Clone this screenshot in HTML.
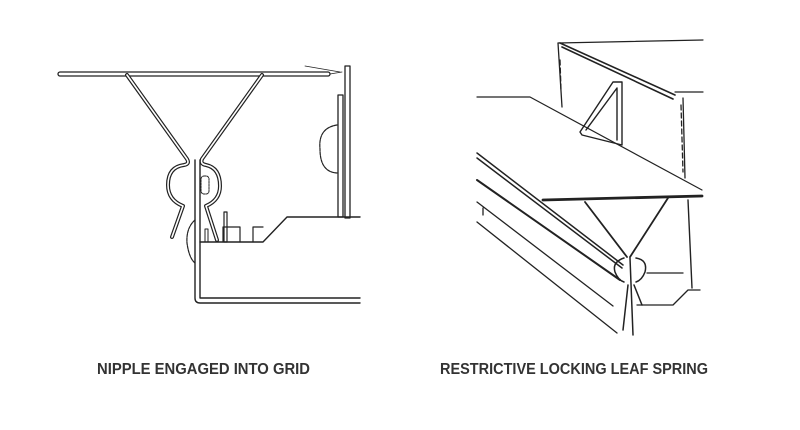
<!DOCTYPE html>
<html><head><style>html,body{margin:0;padding:0;background:#fff}svg{display:block}</style></head>
<body>
<svg width="800" height="430" viewBox="0 0 800 430" xmlns="http://www.w3.org/2000/svg">
<g fill="none" stroke="#222" stroke-linejoin="round" stroke-linecap="round">
<!-- LEFT -->
<rect x="58" y="72" width="272" height="4" rx="2" stroke-width="1.3"/>
<path d="M330 74 L342 72 M305 66 L340 72" stroke-width="0.8"/>
<rect x="345" y="66" width="5" height="152" stroke-width="1.3"/>
<rect x="338" y="95" width="5" height="122" stroke-width="1.3"/>
<path d="M337 125 Q318 128 320 149 Q320 172 337 173" stroke-width="1.2" stroke-dasharray="3 1"/>
<!-- spring -->
<path d="M127 75 L187 159 Q190 164 184 165 Q168 167 168 185 Q168 200 183 206 L172 237" stroke-width="4"/>
<path d="M127 75 L187 159 Q190 164 184 165 Q168 167 168 185 Q168 200 183 206 L172 237" stroke="#fff" stroke-width="1.6"/>
<path d="M262 75 L202 159 Q200 164 206 165 Q220 168 220 186 Q220 200 206 206 L217 240" stroke-width="4"/>
<path d="M262 75 L202 159 Q200 164 206 165 Q220 168 220 186 Q220 200 206 206 L217 240" stroke="#fff" stroke-width="1.6"/>
<rect x="201" y="176" width="8" height="18" rx="3" stroke-width="1" stroke-dasharray="2 1"/>
<!-- grid -->
<path d="M195 160 L195 298 Q195 303 200 303 L360 303 M200 160 L200 298 L360 298" stroke-width="1.4"/>
<path d="M200 242 L263 242 L287 217 L360 217" stroke-width="1.4"/>
<path d="M253 242 L253 227 L263 227 M223 242 L223 227 L240 227 L240 242" stroke-width="1.2"/>
<rect x="224" y="212" width="3" height="30" stroke-width="1.2"/>
<rect x="205" y="229" width="3" height="13" stroke-width="1"/>
<path d="M195 220 Q186 228 187 243 Q189 258 195 263" stroke-width="1.2" stroke-dasharray="3 1"/>
<!-- RIGHT -->
<path d="M558 43 L703 40" stroke-width="1.2"/>
<path d="M560 43 L675 95 M562 47 L673 99" stroke-width="1.6"/>
<path d="M675 92 L703 92" stroke-width="1.2"/>
<path d="M558 43 L562 107" stroke-width="1.3"/>
<path d="M560 60 L561 90" stroke-width="1.3" stroke-dasharray="5 3"/>
<path d="M683 98 L685 178" stroke-width="1.3"/>
<path d="M681 105 L683 172" stroke-width="1.3" stroke-dasharray="5 3"/>
<path d="M477 97 L530 97 L702 190" stroke-width="1.2"/>
<path d="M580 132 L613 82 L622 82 L622 145 L582 135 Z M586 130 L617 88 L617 140" stroke-width="1.4"/>
<path d="M543 200 L702 196" stroke-width="2.8"/>
<path d="M477 153 L623 265 M477 158 L622 268" stroke-width="1.5"/>
<path d="M477 180 L620 280" stroke-width="2"/>
<path d="M477 202 L613 306 M477 222 L617 333 M483 208 L483 215" stroke-width="1.3"/>
<path d="M585 202 L627 257 M668 198 L630 257" stroke-width="1.8"/>
<path d="M624 258 Q612 262 615 272 Q618 280 624 282 M636 258 Q648 260 645 272 Q642 280 636 282" stroke-width="1.5"/>
<path d="M630 258 L633 335 M628 285 L623 330 M634 285 L642 305" stroke-width="1.5"/>
<path d="M688 200 L692 288" stroke-width="1.4"/>
<path d="M637 305 L673 305 L688 290 L700 290 M647 273 L683 273" stroke-width="1.3"/>
</g>
<g font-family="'Liberation Sans', sans-serif" font-weight="bold" font-size="15.5" fill="#333">
<text x="97" y="374" textLength="213" lengthAdjust="spacingAndGlyphs">NIPPLE ENGAGED INTO GRID</text>
<text x="440" y="374" textLength="268" lengthAdjust="spacingAndGlyphs">RESTRICTIVE LOCKING LEAF SPRING</text>
</g>
</svg>
</body></html>
